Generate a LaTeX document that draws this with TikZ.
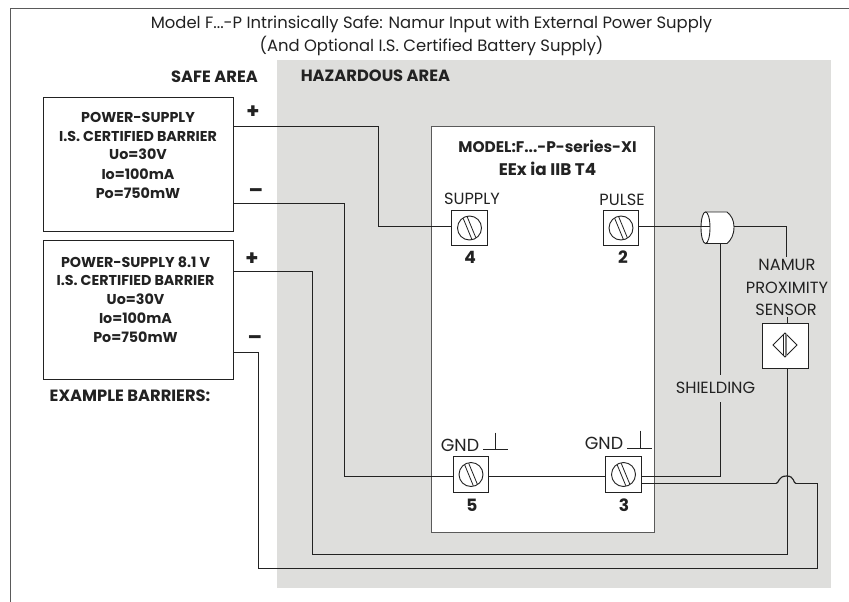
\documentclass[tikz,border=0pt]{standalone}
\usepackage{fontspec}
\setmainfont{Poppins}
\usetikzlibrary{calc}
\definecolor{haz}{HTML}{DEDEDC}
\definecolor{ink}{HTML}{222222}
\definecolor{fr}{HTML}{5A5A5A}
\tikzset{
  wire/.style={draw=ink,line width=1pt},
  panel/.style={draw=ink,fill=white,line width=1pt,inner sep=0pt},
  term/.style={draw=ink,fill=white,line width=1pt,minimum size=35.5pt,inner sep=0pt},
  tlab/.style={text=ink,font=\fontsize{16.4}{16.4}\selectfont,inner sep=0pt},
  lab/.style={text=ink,font=\fontsize{16.2}{16.2}\selectfont,inner sep=0pt},
  glab/.style={text=ink,font=\fontsize{17.5}{17.5}\selectfont,inner sep=0pt},
  blab/.style={text=ink,font=\fontsize{16.3}{16.3}\selectfont\bfseries,inner sep=0pt},
  mlab/.style={text=ink,font=\fontsize{15.4}{15.4}\selectfont\bfseries,inner sep=0pt},
  elab/.style={text=ink,font=\fontsize{16.8}{16.8}\selectfont\bfseries,inner sep=0pt},
  slab/.style={text=ink,font=\fontsize{14.3}{14.3}\selectfont\bfseries,inner sep=0pt},
  num/.style={text=ink,font=\fontsize{17}{17}\selectfont\bfseries,inner sep=0pt},
  sign/.style={text=ink,font=\fontsize{21}{21}\selectfont\bfseries,inner sep=0pt},
}
\newcommand{\screw}[1]{%
  \draw[ink,line width=0.9pt] (#1) circle[radius=12pt];
  \draw[ink,line width=0.8pt] ($(#1)+(-6.3,-9.6)$) -- ($(#1)+(2.3,11.2)$);
  \draw[ink,line width=0.8pt] ($(#1)+(-2.3,-11.2)$) -- ($(#1)+(6.3,9.6)$);
}
\begin{document}
\begin{tikzpicture}[x=1pt,y=-1pt]
\useasboundingbox (0,0) rectangle (849,602);
\fill[white] (0,0) rectangle (849,602);
\fill[haz] (277,60) rectangle (831,588);
\draw[fr,line width=1.4pt] (10.5,602) -- (10.5,8.8) -- (849,8.8);

% module, barriers
\node[panel,draw=fr,minimum width=223.5pt,minimum height=406pt] (mod) at (543.2,329) {};
\node[panel,minimum width=190pt,minimum height=134pt] (b1) at (138,164) {};
\node[panel,minimum width=190pt,minimum height=139pt] (b2) at (138,309.5) {};

% terminals
\node[term] (t4) at (469.5,228) {};
\node[term] (t2) at (621,228) {};
\node[term] (t5) at (471,474.5) {};
\node[term] (t3) at (623.5,474.5) {};
\node[panel,draw=ink,minimum width=46pt,minimum height=45pt] (sens) at (785,345.5) {};
\screw{t4}\screw{t2}\screw{t5}\screw{t3}

% connector end points
\coordinate (b1p) at (233,126.5);
\coordinate (b1m) at (233,203.5);
\coordinate (b2p) at (233,271.5);
\coordinate (b2m) at (233,352.5);
\coordinate (t4w) at (t4.west |- 0,226.5);
\coordinate (t2e) at (t2.east |- 0,226.5);
\coordinate (t5w) at (t5.west |- 0,476.5);
\coordinate (t5e) at (t5.east |- 0,476.5);
\coordinate (t3w) at (t3.west |- 0,476.5);
\coordinate (t3a) at (t3.east |- 0,476.5);
\coordinate (t3b) at (t3.east |- 0,483.5);
\coordinate (ca) at (702,226.5);
\coordinate (cb) at (734,226.5);
\coordinate (cs) at (720.5,243.5);
\coordinate (shu) at (720.5,375);
\coordinate (shl) at (720.5,402);
\coordinate (sa) at (786.5,257);

% wires
\draw[wire] (b1p) -- (378.5,126.5) -- (378.5,226.5) -- (t4w);
\draw[wire] (b1m) -- (344.5,203.5) -- (344.5,476.5) -- (t5w);
\draw[wire] (t5e) -- (t3w);
\draw[wire] (b2p) -- (312.5,271.5) -- (312.5,554.5) -- (787.5,554.5) -- (sens.south -| 787.5,0);
\draw[wire] (b2m) -- (258.5,352.5) -- (258.5,568.5) -- (817.5,568.5) -- (817.5,483.5) -- (796,483.5);
\draw[wire,line width=1.15pt] (796,483.5)
   .. controls (793,483.5) and (795,476) .. (786.5,476)
   .. controls (778,476) and (779,483.5) .. (776,483.5);
\draw[wire] (776,483.5) -- (t3b);
\draw[wire] (t3a) -- (720.5,476.5) -- (shl);
\draw[wire] (cs) -- (shu);
\draw[wire] (t2e) -- (ca);
\draw[wire] (cb) -- (786.5,226.5) -- (sa);
\draw[wire] (sens.north -| 787.5,0) -- (787.5,317);

% cable shield
\draw[ink,fill=white,line width=0.9pt] (705.5,212) -- (727,212)
   .. controls (731,215) and (734,220) .. (734,227)
   .. controls (734,235) and (731,240) .. (727,243.5) -- (705.5,243.5);
\draw[ink,fill=white,line width=0.9pt] (705.5,227.7) ellipse[x radius=4.5pt,y radius=15.8pt];
\draw[wire] (701,226.5) -- (710,226.5);

% sensor symbol
\draw[ink,line width=0.8pt] (773,345) -- (785,333) -- (797,345) -- (785,357) -- cycle;
\draw[ink,line width=0.8pt] (783,335) -- (783,355);
\draw[ink!60,line width=1.2pt] (786,334) -- (786,356);

% ground symbols
\draw[ink,line width=0.8pt] (483,449.5) -- (508,449.5) (495.5,432.5) -- (495.5,449.5);
\draw[ink,line width=0.8pt] (627,448.5) -- (652,448.5) (640.5,430.5) -- (640.5,448.5);

% texts
\node[tlab] (title1) at (431.5,24) {Model F...-P Intrinsically Safe: Namur Input with External Power Supply};
\node[tlab] (title2) at (431.5,46) {(And Optional I.S. Certified Battery Supply)};
\node[blab] (safe) at (214.5,77) {SAFE AREA};
\node[blab] (hazl) at (375.5,76) {HAZARDOUS AREA};
\node[blab] (ex) at (130,396) {EXAMPLE BARRIERS:};
\foreach \t/\y in {POWER-SUPPLY/117,I.S. CERTIFIED BARRIER/136,Uo=30V/154.5,Io=100mA/174,Po=750mW/193}
  \node[slab] at (138,\y) {\t};
\foreach \t/\y in {POWER-SUPPLY 8.1 V/262,I.S. CERTIFIED BARRIER/280.5,Uo=30V/299,Io=100mA/318,Po=750mW/337}
  \node[slab] at (135.5,\y) {\t};
\node[sign] at (253,112) {+};
\node[sign] at (256,193) {\textendash};
\node[sign] at (252,259) {+};
\node[sign] at (255,340) {\textendash};
\node[mlab] (m1) at (547.5,146) {MODEL:F...-P-series-XI};
\node[elab] (m2) at (547.5,168.5) {EEx ia IIB T4};
\node[lab] at (472,199) {SUPPLY};
\node[lab] at (622,200) {PULSE};
\node[num] at (470,257) {4};
\node[num] at (623,257) {2};
\node[num] at (472,505) {5};
\node[num] at (624,505) {3};
\node[glab] at (460,445) {GND};
\node[glab] at (604,443) {GND};
\node[lab] at (787,265) {NAMUR};
\node[lab] at (787,288) {PROXIMITY};
\node[lab] at (786,310) {SENSOR};
\node[lab] at (715.5,388) {SHIELDING};
\end{tikzpicture}
\end{document}
